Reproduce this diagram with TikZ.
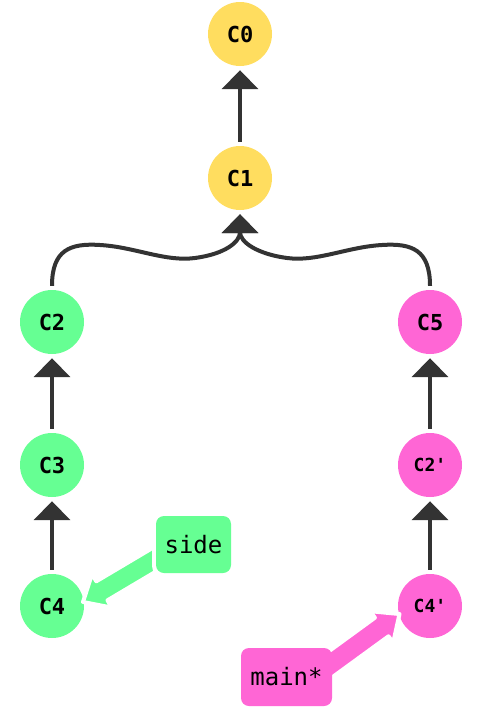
\documentclass[tikz,border=0pt]{standalone}
\usepackage{fontspec}
\setmonofont{DejaVu Sans Mono}
\usetikzlibrary{arrows.meta}
\definecolor{cyel}{HTML}{FFDD5F}
\definecolor{cgrn}{HTML}{66FF93}
\definecolor{cpnk}{HTML}{FF66D5}
\definecolor{cedge}{HTML}{333333}
\tikzset{
  commit/.style={circle, minimum size=64pt, inner sep=0pt, font=\ttfamily\bfseries\fontsize{22}{22}\selectfont, text=black},
  primed/.style={font=\ttfamily\bfseries\fontsize{18}{18}\selectfont},
  parent/.style={draw=cedge, line width=4pt, line join=round, shorten <=4pt, shorten >=4pt,
    -{Triangle[width=36pt,length=19pt]}},
  branch/.style={rounded corners=8pt, minimum width=75pt, minimum height=57pt, inner sep=0pt,
    font=\ttfamily\fontsize{24}{24}\selectfont, text=black},
  halo/.style={fill=white, rounded corners=11pt, minimum width=83pt, minimum height=65pt, inner sep=0pt},
  fat/.style={draw=white, line width=4pt, line join=round}
}
\begin{document}
\begin{tikzpicture}[x=1pt,y=-1pt]
\useasboundingbox (0,0) rectangle (488,720);
% commits
\node[commit, fill=cyel] (C0) at (240,34) {C0};
\node[commit, fill=cyel] (C1) at (240,178) {C1};
\node[commit, fill=cgrn] (C2) at (52,322) {C2};
\node[commit, fill=cgrn] (C3) at (52,465) {C3};
\node[commit, fill=cgrn] (C4) at (52,606) {C4};
\node[commit, fill=cpnk] (C5) at (430,322) {C5};
\node[commit, primed, fill=cpnk] (C2p) at (430,465) {C2'};
\node[commit, primed, fill=cpnk] (C4p) at (430,606) {C4'};
% parent links
\draw[parent] (C1) -- (C0);
\draw[parent] (C3) -- (C2);
\draw[parent] (C4) -- (C3);
\draw[parent] (C2p) -- (C5);
\draw[parent] (C4p) -- (C2p);
\draw[parent] (C2.north) .. controls (52,250) and (70,243) .. (100,245)
  .. controls (135,247) and (165,262) .. (195,258)
  .. controls (225,254) and (240,242) .. (C1.south);
\draw[parent] (C5.north) .. controls (430,250) and (412,243) .. (382,245)
  .. controls (347,247) and (317,262) .. (287,258)
  .. controls (257,254) and (240,242) .. (C1.south);
% branch pointer arrows
\coordinate (sideTip) at (83,602);
\coordinate (mainTip) at (399.5,614);
\filldraw[fat, fill=cgrn] (163.4,541.5) -- (96.3,581.3) -- (92.0,574.0) -- (sideTip)
  -- (111.8,607.6) -- (107.5,600.3) -- (174.6,560.5) -- cycle;
\filldraw[fat, fill=cpnk] (315.9,660.7) -- (374.9,617.7) -- (370.2,611.2) -- (mainTip)
  -- (393.2,642.8) -- (388.5,636.3) -- (329.5,679.3) -- cycle;
% branch labels
\node[halo] (sideHalo) at (193.5,544.5) {};
\node[branch, fill=cgrn] (side) at (193.5,544.5) {side};
\node[halo] (mainHalo) at (286.5,677) {};
\node[branch, fill=cpnk, minimum width=91pt, minimum height=58pt] (main) at (286.5,677) {main*};
\end{tikzpicture}
\end{document}
